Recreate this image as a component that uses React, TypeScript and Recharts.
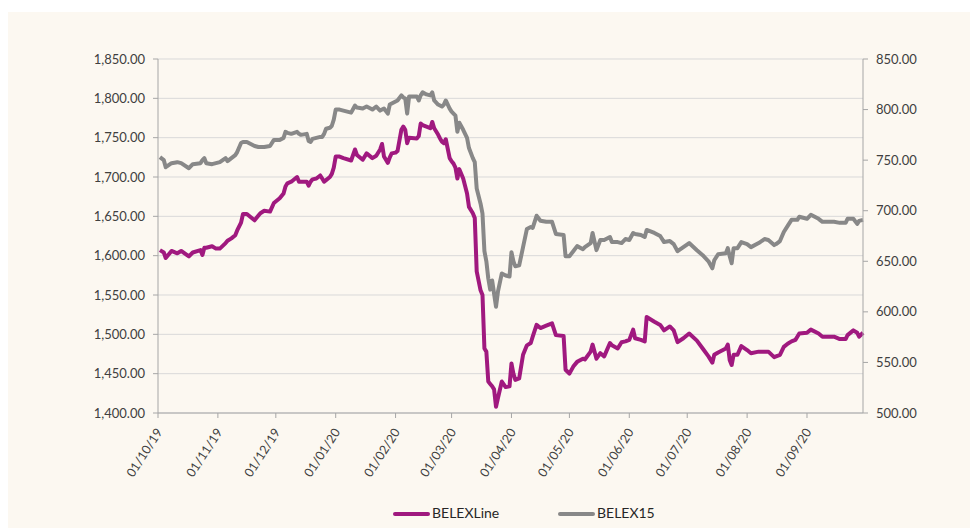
import React from "react";
import { LineChart, Line, XAxis, YAxis, CartesianGrid, Legend } from "recharts";

// days counted from 01/10/2019
const dayOffsets = [
  1, 3, 4, 7, 10, 12, 16, 18, 22, 23, 24, 25, 28, 30, 32, 35, 36, 38, 40, 41,
  43, 44, 46, 49, 50, 52, 53, 55, 58, 60, 63, 65, 66, 67, 69, 72, 73, 74, 77, 78,
  79, 80, 82, 84, 85, 86, 87, 89, 90, 91, 92, 94, 96, 100, 102, 103, 106, 108, 111, 113,
  115, 116, 117, 119, 120, 121, 123, 124, 126, 127, 128, 129, 130, 134, 135, 136, 137, 139, 141, 142,
  143, 145, 146, 147, 148, 149, 151, 152, 153, 154, 155, 156, 158, 160, 161, 163, 164, 165, 167, 168,
  169, 170, 171, 172, 173, 174, 175, 176, 178, 180, 182, 183, 184, 185, 187, 189, 191, 193, 194, 196,
  198, 201, 204, 206, 210, 211, 213, 215, 217, 220, 221, 224, 225, 227, 229, 231, 234, 235, 238, 240,
  242, 244, 246, 247, 250, 252, 253, 257, 260, 262, 265, 267, 269, 272, 275, 279, 282, 285, 287, 288,
  290, 294, 295, 296, 297, 298, 300, 302, 305, 307, 311, 314, 316, 319, 320, 322, 324, 326, 328, 330,
  331, 332, 336, 338, 342, 344, 348, 350, 353, 356, 357, 360, 362, 363, 365,
];

const belexLine = [
  1607, 1604, 1597, 1606, 1603, 1606, 1599, 1604, 1607, 1601, 1610, 1610, 1612, 1609, 1609, 1616, 1619, 1622, 1626, 1632,
  1642, 1653, 1653, 1647, 1645, 1651, 1654, 1657, 1656, 1667, 1673, 1679, 1688, 1692, 1694, 1700, 1694, 1694, 1694, 1689,
  1694, 1697, 1698, 1702, 1698, 1694, 1696, 1700, 1704, 1712, 1726, 1726, 1724, 1721, 1735, 1728, 1722, 1730, 1724, 1727,
  1735, 1742, 1726, 1718, 1725, 1730, 1731, 1733, 1760, 1764, 1760, 1743, 1750, 1749, 1752, 1768, 1766, 1764, 1762, 1770,
  1762, 1754, 1749, 1745, 1743, 1748, 1724, 1720, 1717, 1712, 1698, 1710, 1698, 1679, 1662, 1654, 1648, 1580, 1556, 1550,
  1482, 1478, 1440, 1437, 1434, 1430, 1408, 1419, 1440, 1433, 1434, 1463, 1450, 1442, 1444, 1474, 1486, 1489, 1497, 1512,
  1508, 1511, 1514, 1499, 1498, 1455, 1450, 1459, 1465, 1469, 1468, 1478, 1487, 1469, 1476, 1472, 1489, 1486, 1482, 1490,
  1491, 1493, 1506, 1495, 1493, 1491, 1522, 1516, 1512, 1505, 1510, 1505, 1490, 1495, 1501, 1492, 1482, 1472, 1464, 1474,
  1477, 1482, 1487, 1467, 1461, 1474, 1474, 1485, 1480, 1476, 1478, 1478, 1478, 1471, 1472, 1474, 1484, 1488, 1491, 1493,
  1497, 1501, 1502, 1506, 1501, 1497, 1497, 1497, 1494, 1494, 1499, 1505, 1502, 1497, 1502,
];

const belex15 = [
  753, 750, 743, 747, 748, 747, 742, 746, 747, 750, 752, 747, 746, 747, 748, 752, 749, 752, 755, 758,
  767, 768, 768, 765, 764, 763, 763, 763, 764, 770, 770, 772, 778, 777, 776, 778, 776, 775, 776, 769,
  768, 771, 772, 773, 773, 776, 781, 782, 784, 790, 800, 800, 799, 797, 804, 802, 801, 803, 800, 803,
  799, 800, 801, 796, 805, 806, 808, 809, 814, 812, 811, 796, 813, 813, 809, 814, 817, 815, 814, 817,
  809, 805, 804, 803, 805, 809, 801, 798, 796, 794, 778, 787, 780, 772, 762, 752, 748, 722, 707, 697,
  660, 650, 633, 622, 631, 618, 605, 620, 638, 636, 635, 659, 650, 645, 646, 664, 682, 684, 683, 695,
  690, 689, 689, 677, 676, 655, 655, 660, 665, 662, 664, 668, 678, 661, 671, 671, 674, 669, 669, 668,
  672, 671, 678, 677, 676, 674, 681, 678, 675, 669, 670, 667, 660, 664, 668, 661, 656, 650, 643, 651,
  657, 658, 663, 655, 648, 663, 663, 669, 667, 664, 668, 672, 671, 666, 667, 670, 679, 685, 691, 691,
  691, 694, 692, 696, 692, 689, 689, 689, 688, 688, 692, 692, 687, 690, 691,
];

const monthTicks = [0, 31, 61, 92, 123, 152, 183, 213, 244, 274, 305, 336];
const monthLabels = [
  "01/10/19", "01/11/19", "01/12/19", "01/01/20", "01/02/20", "01/03/20",
  "01/04/20", "01/05/20", "01/06/20", "01/07/20", "01/08/20", "01/09/20",
];
const leftTicks = [1400, 1450, 1500, 1550, 1600, 1650, 1700, 1750, 1800, 1850];
const rightTicks = [500, 550, 600, 650, 700, 750, 800, 850];

const MAGENTA = "#A0197F";
const GREY = "#888888";
const FONT = "Lato, 'Open Sans', sans-serif";
const W = 974;
const H = 520;

const rows = dayOffsets.map((d, i) => ({ day: d, line: belexLine[i], b15: belex15[i] }));

const fmt = (v: number) =>
  v.toLocaleString("en-US", { minimumFractionDigits: 2, maximumFractionDigits: 2 });

// rotated date labels, a bit steeper than 45deg like the original
const DateTick = ({ x, y, payload }: any) => {
  const i = monthTicks.indexOf(payload.value);
  const px = x + 5;
  const py = y + 12;
  return (
    <text
      x={px}
      y={py}
      transform={`rotate(-57 ${px} ${py})`}
      textAnchor="end"
      fill="#404040"
      fontSize={12.5}
      fontFamily={FONT}
    >
      {monthLabels[i]}
    </text>
  );
};

const LegendBox = () => (
  <div style={{ position: "relative", height: 24, fontFamily: FONT, fontSize: 14, color: "#262626" }}>
    <div style={{ position: "absolute", left: 389, top: 10, width: 37, height: 4, background: MAGENTA, borderRadius: 2 }} />
    <div style={{ position: "absolute", left: 428, top: 2 }}>BELEXLine</div>
    <div style={{ position: "absolute", left: 554, top: 10, width: 37, height: 4, background: GREY, borderRadius: 2 }} />
    <div style={{ position: "absolute", left: 593, top: 2 }}>BELEX15</div>
  </div>
);

export default function App() {
  const tickStyle = { fill: "#404040", fontSize: 13, fontFamily: FONT };
  return (
    <div style={{ position: "relative", left: -4, top: 4, width: W, height: H, background: "#FCF8F1" }}>
      <LineChart width={W} height={H} data={rows} margin={{ top: 47, right: 35, left: 54, bottom: 6 }}>
        <CartesianGrid yAxisId="left" vertical={false} stroke="#D9D9D9" />
        <XAxis
          dataKey="day"
          type="number"
          domain={[0, 365]}
          ticks={monthTicks}
          interval={0}
          height={89}
          tick={<DateTick />}
          tickSize={5}
          stroke="#A6A6A6"
        />
        <YAxis
          yAxisId="left"
          domain={[1400, 1850]}
          ticks={leftTicks}
          interval={0}
          width={100}
          tickSize={5}
          tickMargin={8}
          tickFormatter={fmt}
          tick={tickStyle}
          stroke="#A6A6A6"
        />
        <YAxis
          yAxisId="right"
          orientation="right"
          domain={[500, 850]}
          ticks={rightTicks}
          interval={0}
          width={80}
          tickSize={5}
          tickMargin={8}
          tickFormatter={fmt}
          tick={tickStyle}
          stroke="#A6A6A6"
        />
        <Legend verticalAlign="bottom" content={<LegendBox />} wrapperStyle={{ left: 0, width: W }} />
        <Line
          yAxisId="left"
          dataKey="line"
          name="BELEXLine"
          type="linear"
          stroke={MAGENTA}
          strokeWidth={4}
          strokeLinejoin="round"
          dot={false}
          isAnimationActive={false}
        />
        <Line
          yAxisId="right"
          dataKey="b15"
          name="BELEX15"
          type="linear"
          stroke={GREY}
          strokeWidth={4}
          strokeLinejoin="round"
          dot={false}
          isAnimationActive={false}
        />
      </LineChart>
    </div>
  );
}
